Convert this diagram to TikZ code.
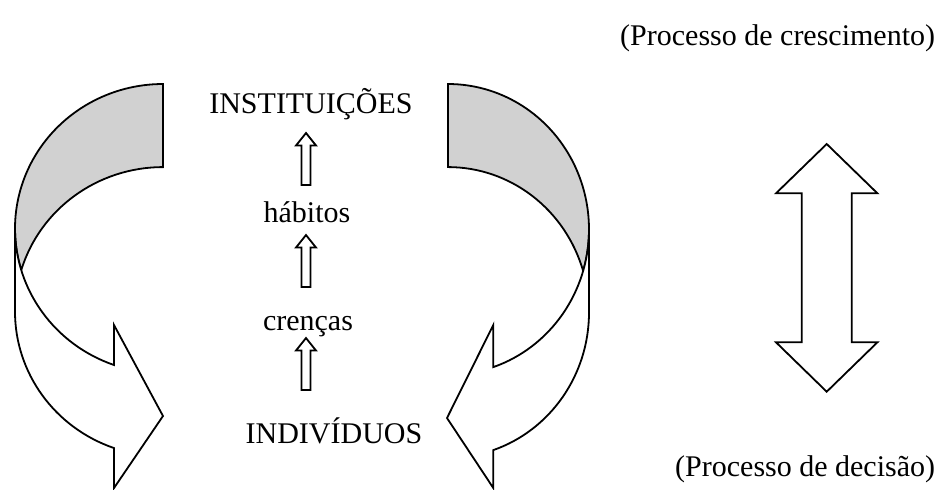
\documentclass[tikz,border=0pt]{standalone}
\usepackage{fontspec}
\setmainfont{Liberation Serif}
\definecolor{backgray}{gray}{0.82}
\begin{document}
\begin{tikzpicture}[x=0.5pt,y=-0.5pt,line width=0.9pt,line join=miter,
    txt/.style={font=\fontsize{15}{18}\selectfont,inner sep=0pt},
    back/.style={draw,fill=backgray},
    front/.style={draw,fill=white}]
\useasboundingbox (0,0) rectangle (942,489);
% left curved arrow (back part, then front part)
\draw[back] (163,84) arc[start angle=270,end angle=163.3,x radius=148,y radius=144.6]
    arc[start angle=196.7,end angle=270,x radius=148,y radius=144.6] -- cycle;
\draw[front] (15,228.6) -- (15,311.6) arc[start angle=180,end angle=109.34,x radius=148,y radius=144.6]
    -- (114,488) -- (163,416) -- (114,325) -- (114,365)
    arc[start angle=109.34,end angle=180,x radius=148,y radius=144.6] -- cycle;
% right curved arrow
\draw[back] (448,84) arc[start angle=270,end angle=376.6,x radius=141,y radius=145.4]
    arc[start angle=343.4,end angle=270,x radius=141,y radius=145.4] -- cycle;
\draw[front] (589,229.4) -- (589,312.4) arc[start angle=0,end angle=71.26,x radius=141,y radius=145.4]
    -- (493.3,488) -- (447,418) -- (493.3,325) -- (493.3,367.1)
    arc[start angle=71.26,end angle=0,x radius=141,y radius=145.4] -- cycle;
% texts
\node[txt,anchor=base] (inst) at (311,113) {INSTITUIÇÕES};
\node[txt,anchor=base] (hab) at (307,222) {hábitos};
\node[txt,anchor=base] (cren) at (308,330) {crenças};
\node[txt,anchor=base] (indiv) at (334,443) {INDIVÍDUOS};
\node[txt,anchor=base east] (cresc) at (936,45) {(Processo de crescimento)};
\node[txt,anchor=base east] (decis) at (936,476) {(Processo de decisão)};
% small up arrows
\foreach \t in {133,235,338}
  \draw (301.5,\t+52) -- +(0,-39.5) -- +(-5.5,-39.5) -- +(4.5,-52) -- +(14.5,-39.5) -- +(9,-39.5) -- +(9,0) -- cycle;
% double arrow
\draw (801.7,193.3) -- (776,193.3) -- (826.7,144) -- (877.4,193.3) -- (851.7,193.3)
    -- (851.7,342.3) -- (877.4,342.3) -- (826.7,391.7) -- (776,342.3) -- (801.7,342.3) -- cycle;
\end{tikzpicture}
\end{document}
